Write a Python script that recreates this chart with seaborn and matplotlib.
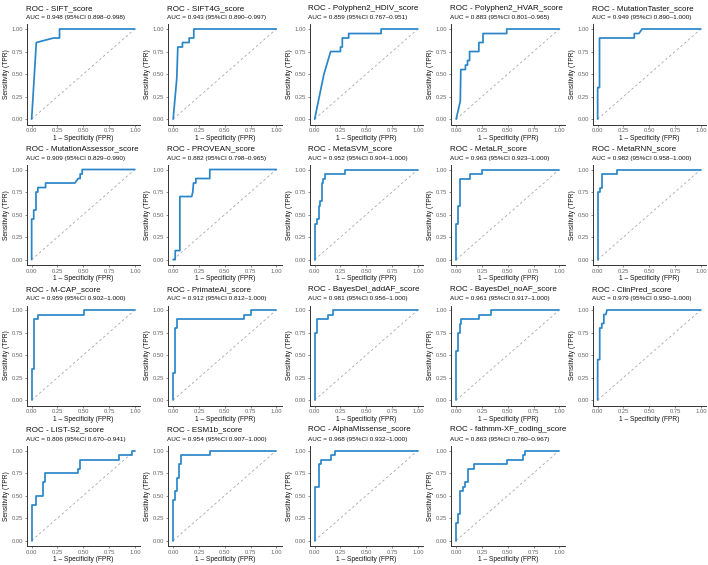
import numpy as np
import pandas as pd
import matplotlib
matplotlib.use("Agg")
import matplotlib.pyplot as plt
import seaborn as sns

sns.set_theme(style="white")
plt.rcParams['font.family'] = ['Liberation Sans', 'DejaVu Sans']

names = ["SIFT_score", "SIFT4G_score", "Polyphen2_HDIV_score", "Polyphen2_HVAR_score",
         "MutationTaster_score", "MutationAssessor_score", "PROVEAN_score", "MetaSVM_score",
         "MetaLR_score", "MetaRNN_score", "M-CAP_score", "PrimateAI_score",
         "BayesDel_addAF_score", "BayesDel_noAF_score", "ClinPred_score", "LIST-S2_score",
         "ESM1b_score", "AlphaMissense_score", "fathmm-XF_coding_score"]

auc = ["0.948", "0.943", "0.859", "0.883", "0.949", "0.909", "0.882", "0.952", "0.963", "0.982",
       "0.959", "0.912", "0.981", "0.961", "0.979", "0.806", "0.954", "0.968", "0.863"]
ci_low = ["0.898", "0.890", "0.767", "0.801", "0.890", "0.829", "0.798", "0.904", "0.923", "0.958",
          "0.902", "0.812", "0.956", "0.917", "0.950", "0.670", "0.907", "0.932", "0.760"]
ci_high = ["0.998", "0.997", "0.951", "0.965", "1.000", "0.990", "0.965", "1.000", "1.000", "1.000",
           "1.000", "1.000", "1.000", "1.000", "1.000", "0.941", "1.000", "1.000", "0.967"]

fpr_sift = [0, 0.045, 0.21, 0.27, 0.27, 1]
tpr_sift = [0, 0.85, 0.90, 0.90, 1.0, 1]
fpr_sift4g = [0, 0.035, 0.045, 0.09, 0.09, 0.155, 0.155, 0.2, 0.2, 1]
tpr_sift4g = [0, 0.45, 0.8, 0.8, 0.85, 0.85, 0.9, 0.9, 1.0, 1]
fpr_hdiv = [0, 0.09, 0.155, 0.25, 0.25, 0.268, 0.268, 0.33, 0.33, 0.644, 0.644, 1]
tpr_hdiv = [0, 0.5, 0.75, 0.75, 0.8, 0.8, 0.9, 0.9, 0.95, 0.95, 1.0, 1]
fpr_hvar = [0, 0.04, 0.045, 0.09, 0.09, 0.11, 0.11, 0.13, 0.13, 0.22, 0.22, 0.26, 0.26, 0.49, 0.49, 1]
tpr_hvar = [0, 0.2, 0.55, 0.55, 0.6, 0.6, 0.65, 0.65, 0.75, 0.75, 0.85, 0.85, 0.95, 0.95, 1.0, 1]
fpr_mt = [0, 0, 0.018, 0.018, 0.355, 0.355, 0.40, 0.43, 1]
tpr_mt = [0, 0.35, 0.35, 0.9, 0.9, 0.95, 0.95, 1.0, 1]
fpr_ma = [0, 0, 0.02, 0.02, 0.042, 0.042, 0.06, 0.06, 0.135, 0.135, 0.42, 0.45, 0.47, 0.47, 0.49, 0.49, 1]
tpr_ma = [0, 0.45, 0.45, 0.55, 0.55, 0.75, 0.75, 0.8, 0.8, 0.85, 0.85, 0.9, 0.9, 0.95, 0.95, 1.0, 1]
fpr_prov = [0, 0.02, 0.02, 0.065, 0.065, 0.18, 0.19, 0.197, 0.22, 0.22, 0.355, 0.355, 1]
tpr_prov = [0, 0, 0.1, 0.1, 0.7, 0.7, 0.75, 0.85, 0.85, 0.9, 0.9, 1.0, 1]
fpr_svm = [0, 0, 0.025, 0.025, 0.04, 0.04, 0.05, 0.05, 0.067, 0.067, 0.083, 0.083, 0.1, 0.1, 0.29, 0.29, 1]
tpr_svm = [0, 0.4, 0.4, 0.45, 0.45, 0.6, 0.6, 0.65, 0.65, 0.85, 0.85, 0.9, 0.9, 0.95, 0.95, 1.0, 1]
fpr_lr = [0, 0, 0.02, 0.02, 0.04, 0.04, 0.135, 0.135, 0.25, 0.25, 1]
tpr_lr = [0, 0.4, 0.4, 0.6, 0.6, 0.9, 0.9, 0.95, 0.95, 1.0, 1]
fpr_rnn = [0, 0, 0.018, 0.018, 0.04, 0.04, 0.19, 0.19, 1]
tpr_rnn = [0, 0.75, 0.75, 0.8, 0.8, 0.95, 0.95, 1.0, 1]
fpr_mcap = [0, 0, 0.022, 0.022, 0.064, 0.064, 0.51, 0.51, 1]
tpr_mcap = [0, 0.35, 0.35, 0.9, 0.9, 0.95, 0.95, 1.0, 1]
fpr_pai = [0, 0, 0.02, 0.02, 0.04, 0.04, 0.69, 0.69, 0.75, 0.75, 1]
tpr_pai = [0, 0.3, 0.3, 0.8, 0.8, 0.9, 0.9, 0.95, 0.95, 1.0, 1]
fpr_bda = [0, 0, 0.022, 0.022, 0.13, 0.13, 0.18, 0.18, 1]
tpr_bda = [0, 0.75, 0.75, 0.9, 0.9, 0.95, 0.95, 1.0, 1]
fpr_bdn = [0, 0, 0.02, 0.02, 0.035, 0.035, 0.048, 0.048, 0.22, 0.22, 0.335, 0.335, 1]
tpr_bdn = [0, 0.55, 0.55, 0.75, 0.75, 0.85, 0.85, 0.9, 0.9, 0.95, 0.95, 1.0, 1]
fpr_clin = [0, 0, 0.02, 0.02, 0.04, 0.04, 0.06, 0.06, 0.08, 0.09, 1]
tpr_clin = [0, 0.45, 0.45, 0.8, 0.8, 0.85, 0.85, 0.95, 0.95, 1.0, 1]
fpr_list = [0, 0, 0.045, 0.045, 0.11, 0.11, 0.13, 0.13, 0.45, 0.45, 0.47, 0.47, 0.845, 0.845, 0.975, 0.975, 1]
tpr_list = [0, 0.4, 0.4, 0.5, 0.5, 0.65, 0.65, 0.75, 0.75, 0.8, 0.8, 0.9, 0.9, 0.95, 0.95, 1.0, 1]
fpr_esm = [0, 0, 0.022, 0.022, 0.04, 0.04, 0.06, 0.06, 0.08, 0.08, 0.355, 0.355, 1]
tpr_esm = [0, 0.45, 0.45, 0.55, 0.55, 0.7, 0.7, 0.85, 0.85, 0.95, 0.95, 1.0, 1]
fpr_am = [0, 0, 0.042, 0.042, 0.058, 0.058, 0.155, 0.155, 0.2, 0.2, 1]
tpr_am = [0, 0.6, 0.6, 0.85, 0.85, 0.9, 0.9, 0.95, 0.95, 1.0, 1]
fpr_fxf = [0, 0, 0.02, 0.02, 0.042, 0.042, 0.065, 0.065, 0.082, 0.082, 0.11, 0.11, 0.175, 0.175,
           0.49, 0.49, 0.645, 0.645, 0.665, 0.665, 1]
tpr_fxf = [0, 0.2, 0.2, 0.3, 0.3, 0.55, 0.55, 0.6, 0.6, 0.65, 0.65, 0.8, 0.8, 0.85,
           0.85, 0.9, 0.9, 0.95, 0.95, 1.0, 1]

fprs = [fpr_sift, fpr_sift4g, fpr_hdiv, fpr_hvar, fpr_mt, fpr_ma, fpr_prov, fpr_svm, fpr_lr, fpr_rnn,
        fpr_mcap, fpr_pai, fpr_bda, fpr_bdn, fpr_clin, fpr_list, fpr_esm, fpr_am, fpr_fxf]
tprs = [tpr_sift, tpr_sift4g, tpr_hdiv, tpr_hvar, tpr_mt, tpr_ma, tpr_prov, tpr_svm, tpr_lr, tpr_rnn,
        tpr_mcap, tpr_pai, tpr_bda, tpr_bdn, tpr_clin, tpr_list, tpr_esm, tpr_am, tpr_fxf]

ticks = [0.0, 0.25, 0.5, 0.75, 1.0]
tick_labels = ["0.00", "0.25", "0.50", "0.75", "1.00"]

W, H = 708, 565
fig = plt.figure(figsize=(W / 100, H / 100), dpi=100)
line_color = "#2a86c8"

for k, name in enumerate(names):
    r, c = divmod(k, 5)
    left = 26.5 + 141.5 * c
    top = 24.5 + 140.5 * r
    ax = fig.add_axes([left / W, 1 - (top + 100) / H, 113.5 / W, 100 / H])
    df = pd.DataFrame({"fpr": fprs[k], "tpr": tprs[k]})
    ax.plot([0, 1], [0, 1], ls=(0, (3, 3)), color="#a8a8a8", lw=0.6)
    sns.lineplot(data=df, x="fpr", y="tpr", sort=False, estimator=None, ax=ax,
                 color=line_color, lw=1.25)
    ax.set_xlim(-0.05, 1.05)
    ax.set_ylim(-0.06, 1.05)
    ax.set_xticks(ticks)
    ax.set_yticks(ticks)
    ax.set_xticklabels(tick_labels)
    ax.set_yticklabels(tick_labels)
    ax.tick_params(axis="both", labelsize=4.2, labelcolor="#666666", length=1.6, width=0.4,
                   color="#333333", pad=1, bottom=True, left=True)
    for s in ["top", "right"]:
        ax.spines[s].set_visible(False)
    for s in ["left", "bottom"]:
        ax.spines[s].set_linewidth(0.7)
        ax.spines[s].set_color("#333333")
    ax.set_xlabel("1 \u2013 Specificity (FPR)", fontsize=4.8, labelpad=1.2, color="#111111")
    ax.set_ylabel("Sensitivity (TPR)", fontsize=4.8, labelpad=1.2, color="#111111")
    ax.grid(False)
    fig.text((left - 1) / W, 1 - 8.3 / H - 140.5 * r / H, "ROC - " + name,
             fontsize=5.8, va="center", ha="left", color="#111111")
    fig.text((left - 1) / W, 1 - 17.8 / H - 140.5 * r / H,
             "AUC = %s (95%%CI %s\u2013%s)" % (auc[k], ci_low[k], ci_high[k]),
             fontsize=4.6, va="center", ha="left", color="#111111")

fig.savefig("out.png", dpi=100, facecolor="white")
